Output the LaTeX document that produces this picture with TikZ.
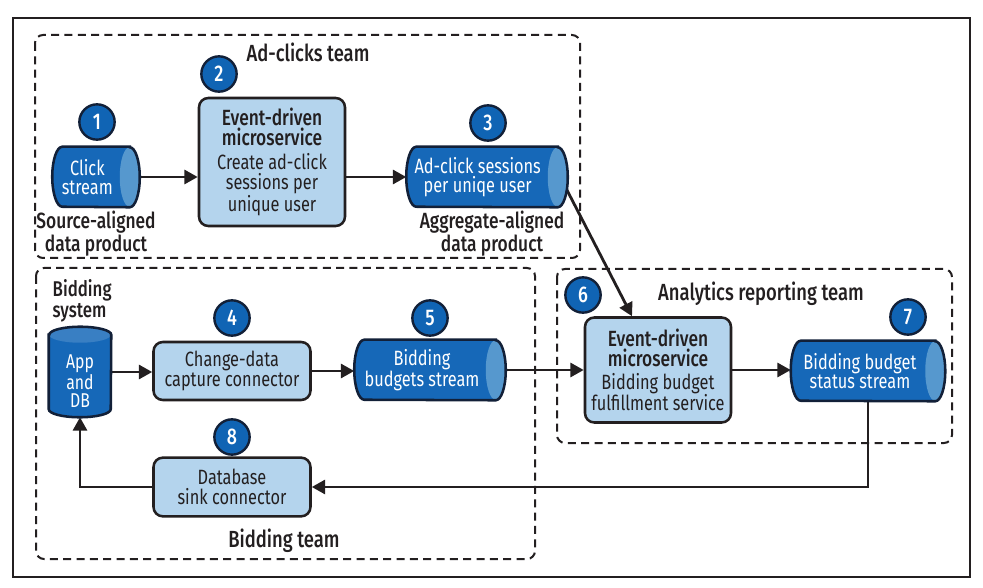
\documentclass[tikz,border=0pt]{standalone}
\usepackage{fontspec}
\setmainfont{Fira Sans}[FakeStretch=0.79,BoldFont={Fira Sans Medium}]
\usetikzlibrary{calc,arrows.meta}
\definecolor{cylblue}{RGB}{22,104,184}
\definecolor{cylcap}{RGB}{86,152,206}
\definecolor{numblue}{RGB}{16,100,180}
\definecolor{navy}{RGB}{18,32,56}
\definecolor{boxfill}{RGB}{180,212,237}
\definecolor{ink}{RGB}{35,31,32}
\newcommand\hcyl[2]{%
  \path[fill=cylblue] ($(#1.north east)+(-7.5pt,0)$) -- ($(#1.north west)+(7.5pt,0)$)
    arc[start angle=90,end angle=270,x radius=7.5pt,y radius=#2]
    -- ($(#1.south east)+(-7.5pt,0)$)
    arc[start angle=-90,end angle=90,x radius=7.5pt,y radius=#2] -- cycle;
  \path[fill=cylcap] ($(#1.east)+(-7.5pt,0)$) ellipse[x radius=7.5pt,y radius=#2];
  \draw[cylline] ($(#1.north east)+(-7.5pt,0)$) -- ($(#1.north west)+(7.5pt,0)$)
    arc[start angle=90,end angle=270,x radius=7.5pt,y radius=#2]
    -- ($(#1.south east)+(-7.5pt,0)$)
    arc[start angle=-90,end angle=90,x radius=7.5pt,y radius=#2] -- cycle;
}
\newcommand\vcyl[2]{%
  \path[fill=cylblue] ($(#1.north west)+(0,-6pt)$) -- ($(#1.south west)+(0,6pt)$)
    arc[start angle=180,end angle=360,x radius=#2,y radius=6pt]
    -- ($(#1.north east)+(0,-6pt)$)
    arc[start angle=0,end angle=180,x radius=#2,y radius=6pt] -- cycle;
  \path[fill=cylblue!85!white] ($(#1.north)+(0,-6pt)$) ellipse[x radius=#2,y radius=6pt];
  \draw[cylline] ($(#1.north west)+(0,-6pt)$) -- ($(#1.south west)+(0,6pt)$)
    arc[start angle=180,end angle=360,x radius=#2,y radius=6pt]
    -- ($(#1.north east)+(0,-6pt)$)
    arc[start angle=0,end angle=180,x radius=#2,y radius=6pt] -- cycle;
}
\newcommand\bt[1]{{\fontsize{16.5}{15}\selectfont\bfseries #1}}
\tikzset{
  every node/.style={font=\fontsize{15.5}{15}\selectfont, text=ink},
  num/.style={circle, fill=numblue, draw=navy, line width=1.8pt, minimum size=26.5pt,
    inner sep=0pt, text=white, font=\bfseries\fontsize{17}{17}\selectfont},
  svc/.style={rectangle, rounded corners=7pt, fill=boxfill, draw=ink, line width=1.9pt,
    align=center, inner sep=2pt},
  cylnode/.style={rectangle, inner sep=0pt},
  cyltext/.style={text=white, align=center, inner sep=0pt, font=\fontsize{15.5}{14.5}\selectfont},
  cylline/.style={draw=navy, line width=1.9pt},
  team/.style={draw=ink, line width=1.5pt, dash pattern=on 6pt off 4pt, rounded corners=6pt},
  title/.style={font=\bfseries\fontsize{17.5}{19}\selectfont},
  lab/.style={align=center, font=\bfseries\fontsize{16.5}{15.5}\selectfont},
  flow/.style={draw=ink, line width=2.1pt, -{Triangle[length=10pt,width=10.5pt]}},
}
\begin{document}
\begin{tikzpicture}[x=0.75pt,y=-0.75pt]
\useasboundingbox (0,0) rectangle (983,588);
\fill[white] (0,0) rectangle (983,588);
\draw[ink, line width=1pt] (13,18) rectangle (970,577);
% team areas
\draw[team] (35,35) rectangle (580,258);
\draw[team] (36,268) rectangle (535,559);
\draw[team] (557,269) rectangle (952,443);
\node[title] (t1) at (308,52) {Ad-clicks team};
\node[title] (t2) at (761,294) {Analytics reporting team};
\node[title] (t3) at (284,541) {Bidding team};
\node[lab, align=left, anchor=west, font=\bfseries\fontsize{16}{15.5}\selectfont] (bsys) at (48,301) {Bidding\\system};
% nodes
\node[svc, minimum width=109.5pt, minimum height=96pt] (box2) at (272,162)
  {\bt{Event-driven}\\\bt{microservice}\\[3pt] Create ad-click\\sessions per\\unique user};
\node[svc, minimum width=117.75pt, minimum height=43.5pt] (cdc) at (232,371)
  {Change-data\\capture connector};
\node[svc, minimum width=117.75pt, minimum height=44pt] (dsc) at (232,487)
  {Database\\sink connector};
\node[svc, minimum width=109.5pt, minimum height=78.75pt] (box6) at (658,370)
  {\bt{Event-driven}\\\bt{microservice}\\[2pt] Bidding budget\\fulfillment service};
\node[cylnode, minimum width=65.25pt, minimum height=45pt] (cyl1) at (96,177) {};
\node[cylnode, minimum width=120.75pt, minimum height=45pt] (cyl3) at (487,177) {};
\node[cylnode, minimum width=113.25pt, minimum height=45pt] (cyl5) at (430,370) {};
\node[cylnode, minimum width=115.5pt, minimum height=45pt] (cyl7) at (868,371) {};
\node[cylnode, minimum width=46.5pt, minimum height=67.5pt] (appdb) at (80,372) {};
% connectors
\draw[flow] (cyl1.east) -- (cyl1.east -| box2.west);
\draw[flow] (cyl3.west -| box2.east) -- (cyl3.west);
\coordinate (c3out) at ($(cyl3.east)+(-1pt,-9pt)$);
\coordinate (b6in) at ($(box6.north)+(-19.5pt,0)$);
\draw[flow] (c3out) -- (b6in);
\draw[flow] (appdb.east) -- (appdb.east -| cdc.west);
\draw[flow] (cdc.east) -- (cdc.east -| cyl5.west);
\draw[flow] (cyl5.east) -- (cyl5.east -| box6.west);
\draw[flow] (box6.east) -- (box6.east -| cyl7.west);
\draw[flow] (cyl7.south) |- (dsc.east);
\draw[flow] (dsc.west) -| (appdb.south);
% cylinders
\hcyl{cyl1}{22.5pt}
\hcyl{cyl3}{22.5pt}
\hcyl{cyl5}{22.5pt}
\hcyl{cyl7}{22.5pt}
\vcyl{appdb}{23.25pt}
\node[cyltext] (cyl1t) at ($(cyl1.center)+(-6.5pt,0)$) {Click\\stream};
\node[cyltext] (cyl3t) at ($(cyl3.center)+(-7pt,0)$) {Ad-click sessions\\per uniqe user};
\node[cyltext] (cyl5t) at ($(cyl5.center)+(-6pt,0)$) {Bidding\\budgets stream};
\node[cyltext] (cyl7t) at ($(cyl7.center)+(-6pt,0)$) {Bidding budget\\status stream};
\node[cyltext, font=\fontsize{15}{14}\selectfont] (appdbt) at ($(appdb.center)+(0,-7pt)$) {App\\and\\DB};
% labels
\node[lab] (src) at (96,234) {Source-aligned\\data product};
\node[lab] (agg) at (492,234) {Aggregate-aligned\\data product};
% numbers
\node[num] (n1) at (97,122) {1};
\node[num] (n2) at (219,74) {2};
\node[num] (n3) at (488,123) {3};
\node[num] (n4) at (232,318) {4};
\node[num] (n5) at (430,318) {5};
\node[num] (n6) at (583,295) {6};
\node[num] (n7) at (908,317) {7};
\node[num] (n8) at (232,437) {8};
\end{tikzpicture}
\end{document}
